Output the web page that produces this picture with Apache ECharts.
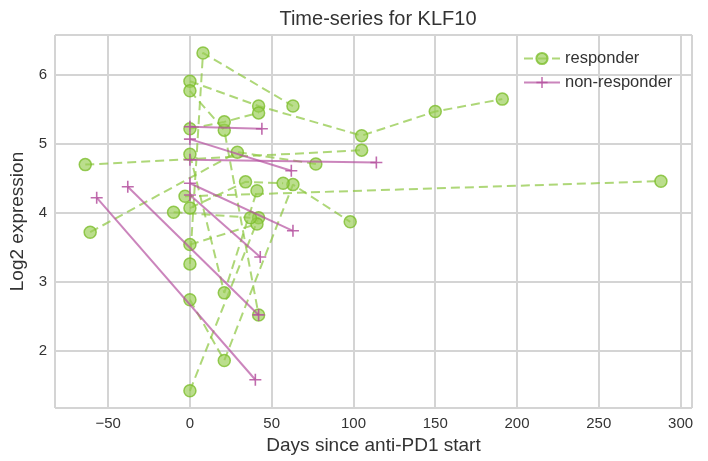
<!DOCTYPE html>
<html>
<head>
<meta charset="utf-8">
<script src="https://cdn.jsdelivr.net/npm/echarts@6/dist/echarts.min.js"></script>
<style>
  html, body { margin: 0; padding: 0; background: #fff; }
  #chart { width: 708px; height: 461px; }
</style>
</head>
<body>
<div id="chart"></div>
<script>
// each patient: [day since anti-PD1 start, log2 expression]
const responders = [
  [[0, 5.91], [42, 5.55], [105, 5.12], [150, 5.47], [191, 5.65]],
  [[-64, 4.70], [105, 4.91]],
  [[0, 3.26], [8, 6.32], [63, 5.55]],
  [[0, 5.77], [21, 5.20], [42, 2.52]],
  [[0, 5.22], [21, 5.32], [42, 5.45]],
  [[-61, 3.72], [29, 4.88], [77, 4.71]],
  [[0, 2.74], [21, 1.86], [63, 4.41], [98, 3.87]],
  [[-3, 4.24], [288, 4.46]],
  [[0, 4.85], [21, 2.84], [41, 4.32]],
  [[0, 1.42], [42, 3.93]],
  [[0, 3.54], [41, 3.84]],
  [[0, 4.07], [34, 4.45], [57, 4.43]],
  [[-10, 4.01], [37, 3.93]]
];
const nonResponders = [
  [[0, 5.25], [44, 5.22]],
  [[0, 5.07], [62, 4.61]],
  [[0, 4.77], [114, 4.73]],
  [[0, 4.43], [63, 3.74]],
  [[0, 4.26], [43, 3.36]],
  [[-38, 4.38], [42, 2.52]],
  [[-57, 4.22], [40, 1.58]]
];
const xRange = [-82.5, 307];
const yRange = [1.17, 6.58];

const green = 'rgba(140,198,63,0.7)';
const purple = 'rgba(181,81,159,0.7)';
const plusPath = 'path://M5.2,0 L6.8,0 L6.8,5.2 L12,5.2 L12,6.8 L6.8,6.8 L6.8,12 L5.2,12 L5.2,6.8 L0,6.8 L0,5.2 L5.2,5.2 Z';
const textColor = '#333';
const gridColor = '#d4d4d4';
const font = 'Liberation Sans, Arial, sans-serif';

const series = [];
responders.forEach(function (pts) {
  series.push({
    name: 'responder',
    type: 'line',
    data: pts,
    symbol: 'circle',
    symbolSize: 12,
    lineStyle: { color: green, width: 2, type: [9, 5] },
    itemStyle: { color: 'rgba(150,205,80,0.65)', borderColor: 'rgba(125,190,45,0.8)', borderWidth: 1.5 },
    z: 2
  });
});
nonResponders.forEach(function (pts) {
  series.push({
    name: 'non-responder',
    type: 'line',
    data: pts,
    symbol: plusPath,
    symbolSize: 12,
    lineStyle: { color: purple, width: 2 },
    itemStyle: { color: 'rgba(181,81,159,0.85)' },
    z: 3
  });
});

const chart = echarts.init(document.getElementById('chart'));
chart.setOption({
  animation: false,
  textStyle: { fontFamily: font },
  title: {
    text: 'Time-series for KLF10',
    left: 373, top: 4, textAlign: 'center',
    textStyle: { fontSize: 20, fontWeight: 'normal', color: textColor, fontFamily: font }
  },
  legend: {
    data: ['responder', 'non-responder'],
    orient: 'vertical',
    left: 518, top: 45,
    itemWidth: 36, itemHeight: 14, itemGap: 7,
    textStyle: { fontSize: 16.5, color: textColor, fontFamily: font }
  },
  grid: { left: 55, right: 16, top: 35, bottom: 53 },
  xAxis: {
    type: 'value',
    min: xRange[0], max: xRange[1], splitNumber: 8,
    name: 'Days since anti-PD1 start',
    nameLocation: 'middle', nameGap: 20,
    nameTextStyle: { fontSize: 19, color: textColor, fontFamily: font },
    axisLine: { show: false },
    axisTick: { show: false },
    axisLabel: {
      showMinLabel: false, showMaxLabel: false, margin: 8,
      fontSize: 15, color: textColor, fontFamily: font,
      formatter: function (v) { return String(v).replace('-', '\u2212'); }
    },
    splitLine: { show: true, lineStyle: { color: gridColor, width: 2 } }
  },
  yAxis: {
    type: 'value',
    min: yRange[0], max: yRange[1], splitNumber: 5,
    name: 'Log2 expression',
    nameLocation: 'middle', nameGap: 19,
    nameTextStyle: { fontSize: 19, color: textColor, fontFamily: font },
    axisLine: { show: false },
    axisTick: { show: false },
    axisLabel: {
      showMinLabel: false, showMaxLabel: false, margin: 8,
      fontSize: 15, color: textColor, fontFamily: font
    },
    splitLine: { show: true, lineStyle: { color: gridColor, width: 2 } }
  },
  series: series
});
</script>
</body>
</html>
